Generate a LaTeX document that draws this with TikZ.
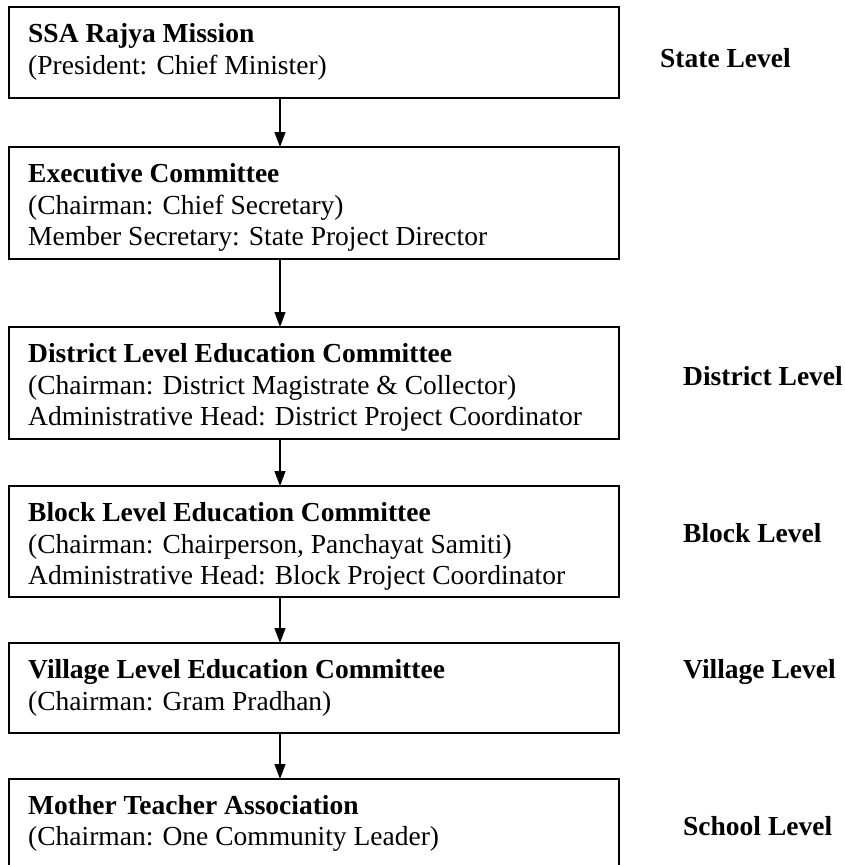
\documentclass[tikz,border=0pt]{standalone}
\usepackage{fontspec}
\setmainfont{Liberation Serif}
\usetikzlibrary{arrows.meta,calc}
\begin{document}
\begin{tikzpicture}[x=1pt,y=-1pt,
  unitbox/.style={draw=black, line width=1.6pt, rectangle, anchor=north west,
    minimum width=610pt, inner sep=0pt, outer sep=0pt},
  txtline/.style={anchor=base west, inner sep=0pt, font=\fontsize{27.5}{32}\selectfont},
  titleline/.style={anchor=base west, inner sep=0pt, font=\fontsize{27.5}{32}\selectfont\bfseries},
  levellabel/.style={titleline},
  flow/.style={line width=1.1pt, -{Triangle[length=15pt,width=11pt]}}]
\useasboundingbox (0,0) rectangle (845,865);

% committee boxes, top to bottom
\node[unitbox, minimum height=91pt]  (b1) at (9,7)   {};
\node[unitbox, minimum height=112pt] (b2) at (9,147) {};
\node[unitbox, minimum height=112pt] (b3) at (9,327) {};
\node[unitbox, minimum height=111pt] (b4) at (9,486) {};
\node[unitbox, minimum height=90pt]  (b5) at (9,643) {};
\node[unitbox, minimum height=95pt]  (b6) at (9,779) {};

% box contents
\node[titleline] (t1a) at ($(b1.north west)+(19,35.5)$) {SSA Rajya Mission};
\node[txtline]   (t1b) at ($(b1.north west)+(19,67.5)$) {(President: Chief Minister)};

\node[titleline] (t2a) at ($(b2.north west)+(19,35.5)$) {Executive Committee};
\node[txtline]   (t2b) at ($(b2.north west)+(19,67)$)   {(Chairman: Chief Secretary)};
\node[txtline]   (t2c) at ($(b2.north west)+(19,98.5)$) {Member Secretary: State Project Director};

\node[titleline] (t3a) at ($(b3.north west)+(19,35.5)$) {District Level Education Committee};
\node[txtline]   (t3b) at ($(b3.north west)+(19,67)$)   {(Chairman: District Magistrate \& Collector)};
\node[txtline]   (t3c) at ($(b3.north west)+(19,98.5)$) {Administrative Head: District Project Coordinator};

\node[titleline] (t4a) at ($(b4.north west)+(19,35.5)$) {Block Level Education Committee};
\node[txtline]   (t4b) at ($(b4.north west)+(19,67)$)   {(Chairman: Chairperson, Panchayat Samiti)};
\node[txtline]   (t4c) at ($(b4.north west)+(19,98.5)$) {Administrative Head: Block Project Coordinator};

\node[titleline] (t5a) at ($(b5.north west)+(19,35.5)$) {Village Level Education Committee};
\node[txtline]   (t5b) at ($(b5.north west)+(19,67)$)   {(Chairman: Gram Pradhan)};

\node[titleline] (t6a) at ($(b6.north west)+(19,35)$)   {Mother Teacher Association};
\node[txtline]   (t6b) at ($(b6.north west)+(19,66.5)$) {(Chairman: One Community Leader)};

% level labels
\node[levellabel] (lstate)    at (660,67)  {State Level};
\node[levellabel] (ldistrict) at (683,385) {District Level};
\node[levellabel] (lblock)    at (683,542) {Block Level};
\node[levellabel] (lvillage)  at (683,678) {Village Level};
\node[levellabel] (lschool)   at (683,835) {School Level};

% downward links
\foreach \u/\v in {b1/b2, b2/b3, b3/b4, b4/b5, b5/b6}
  \draw[flow] ($(\u.south west)+(271,0)$) -- ($(\v.north west)+(271,0)$);
\end{tikzpicture}
\end{document}
